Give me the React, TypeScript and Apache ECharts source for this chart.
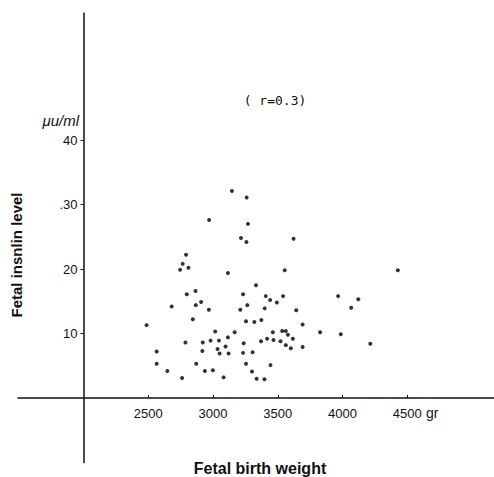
import React, { useEffect, useRef } from "react";
import * as echarts from "echarts";

// Fetal birth weight (g) and fetal insulin level (µu/ml)
const birthWeight = [
  2487, 2565, 2565, 2647, 2681, 2761, 2746, 2766, 2792, 2810,
  2797, 2787, 2844, 2865, 2867, 2870, 2908, 2921, 2918, 2937,
  2968, 2970, 2981, 2999, 3017, 3035, 3046, 3051, 3082, 3097,
  3115, 3120, 3115, 3146, 3167, 3211, 3216, 3232, 3237, 3232,
  3255, 3255, 3258, 3260, 3265, 3270, 3301, 3306, 3319, 3332,
  3337, 3371, 3373, 3397, 3399, 3407, 3418, 3441, 3444, 3462,
  3467, 3493, 3521, 3534, 3541, 3554, 3562, 3562, 3578, 3601,
  3617, 3622, 3643, 3692, 3692, 3827, 3966, 3987, 4067, 4122,
  4215, 4427,
];
const insulinLevel = [
  11.3, 7.2, 5.3, 4.2, 14.2, 3.1, 19.9, 20.8, 22.2, 20.2,
  16.1, 8.6, 12.2, 16.6, 14.4, 5.3, 14.9, 8.6, 7.3, 4.2,
  13.7, 27.6, 8.9, 4.3, 10.3, 7.6, 8.9, 6.9, 3.2, 8.0,
  9.4, 6.9, 19.4, 32.1, 10.2, 13.7, 24.8, 16.1, 8.5, 7.0,
  5.3, 11.9, 24.2, 31.1, 14.4, 27.0, 4.1, 7.1, 11.8, 17.5,
  3.0, 8.8, 12.1, 2.9, 13.9, 15.8, 9.2, 15.2, 5.1, 10.2,
  9.0, 14.8, 8.8, 10.4, 15.8, 19.8, 10.4, 8.2, 9.8, 7.7,
  9.2, 24.7, 13.6, 11.4, 7.9, 10.2, 15.8, 9.9, 14.0, 15.3,
  8.4, 19.8,
];
const xTicks = [2500, 3000, 3500, 4000, 4500];
const xTickLabels = ["2500", "3000", "3500", "4000", "4500"];
const yTicks = [10, 20, 30, 40];
const yTickLabels = ["10", "20", ".30", "40"];

const W = 494;
const H = 477;
const X_MIN = 1494;
const X_MAX = 5170;
const X_CROSS = 2000;
const Y_MIN = -10;
const Y_MAX = 59.7;
const Y_CROSS = 0;
const GRID = { left: 18, right: 0, top: 13, bottom: 14.5 };

export default function App() {
  const ref = useRef<HTMLDivElement>(null);
  useEffect(() => {
    document.body.style.margin = "0";
    const chart = echarts.init(ref.current!, null, { renderer: "svg" });
    const gridW = W - GRID.left - GRID.right;
    const gridH = H - GRID.top - GRID.bottom;
    const yOffset = -((X_CROSS - X_MIN) / (X_MAX - X_MIN)) * gridW;
    const xOffset = -((Y_CROSS - Y_MIN) / (Y_MAX - Y_MIN)) * gridH;
    const font = "'Liberation Sans', Arial, sans-serif";
    chart.setOption({
      animation: false,
      backgroundColor: "#ffffff",
      grid: { ...GRID },
      xAxis: {
        type: "value",
        min: X_MIN,
        max: X_MAX,
        offset: xOffset,
        splitLine: { show: false },
        axisLine: { show: true, onZero: false, lineStyle: { color: "#111", width: 1.5 } },
        axisTick: { show: true, inside: true, length: 3, customValues: xTicks, lineStyle: { color: "#111" } },
        axisLabel: {
          customValues: xTicks,
          margin: 9,
          color: "#111",
          fontSize: 13,
          fontFamily: font,
          formatter: (v: number) => xTickLabels[xTicks.indexOf(v)] ?? "",
        },
      },
      yAxis: {
        type: "value",
        min: Y_MIN,
        max: Y_MAX,
        offset: yOffset,
        splitLine: { show: false },
        axisLine: { show: true, onZero: false, lineStyle: { color: "#111", width: 1.5 } },
        axisTick: { show: true, length: 3, customValues: yTicks, lineStyle: { color: "#111" } },
        axisLabel: {
          customValues: yTicks,
          margin: 6,
          color: "#111",
          fontSize: 13,
          fontFamily: font,
          formatter: (v: number) => yTickLabels[yTicks.indexOf(v)] ?? "",
        },
      },
      graphic: [
        {
          type: "text",
          x: 79,
          y: 120,
          style: { text: "μu/ml", fontSize: 15, fontStyle: "italic", fontFamily: font, fill: "#111", align: "right", verticalAlign: "middle" },
        },
        {
          type: "text",
          x: 426,
          y: 413,
          style: { text: "gr", fontSize: 14, fontFamily: font, fill: "#111", align: "left", verticalAlign: "middle" },
        },
        {
          type: "text",
          x: 275,
          y: 100,
          style: { text: "( r=0.3)", fontSize: 13, fontFamily: "'DejaVu Sans Mono', monospace", fill: "#111", align: "center", verticalAlign: "middle" },
        },
        {
          type: "text",
          x: 16,
          y: 255,
          rotation: Math.PI / 2,
          style: { text: "Fetal insnlin level", fontSize: 15, fontWeight: "bold", fontFamily: font, fill: "#111", align: "center", verticalAlign: "middle" },
        },
        {
          type: "text",
          x: 260,
          y: 468,
          style: { text: "Fetal birth weight", fontSize: 16, fontWeight: "bold", fontFamily: font, fill: "#111", align: "center", verticalAlign: "middle" },
        },
      ],
      series: [
        {
          type: "scatter",
          symbol: "circle",
          symbolSize: 4,
          itemStyle: { color: "#000" },
          data: birthWeight.map((w, i) => [w, insulinLevel[i]]),
        },
      ],
    });
    return () => chart.dispose();
  }, []);
  return <div ref={ref} style={{ width: W, height: H }} />;
}
